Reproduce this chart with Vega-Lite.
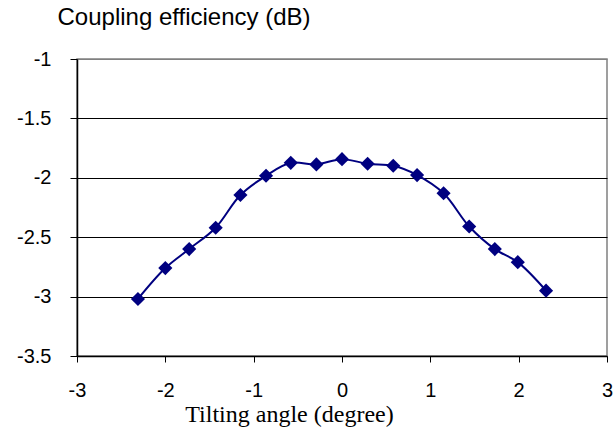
{
  "$schema": "https://vega.github.io/schema/vega-lite/v6.json",
  "width": 530,
  "height": 297,
  "autosize": {"type": "none"},
  "padding": {"left": 77, "top": 59, "right": 6, "bottom": 77},
  "background": "white",
  "config": {"view": {"stroke": "#808080", "strokeWidth": 1.5}},
  "data": {
    "values": [
      {"angle": -2.31, "eff": -3.02},
      {"angle": -2.0, "eff": -2.76},
      {"angle": -1.73, "eff": -2.6},
      {"angle": -1.43, "eff": -2.42},
      {"angle": -1.15, "eff": -2.145},
      {"angle": -0.86, "eff": -1.983},
      {"angle": -0.58, "eff": -1.874},
      {"angle": -0.29, "eff": -1.887},
      {"angle": 0.0, "eff": -1.843},
      {"angle": 0.29, "eff": -1.882},
      {"angle": 0.58, "eff": -1.899},
      {"angle": 0.85, "eff": -1.977},
      {"angle": 1.15, "eff": -2.13},
      {"angle": 1.44, "eff": -2.41},
      {"angle": 1.73, "eff": -2.6},
      {"angle": 1.99, "eff": -2.71},
      {"angle": 2.31, "eff": -2.95}
    ]
  },
  "encoding": {
    "x": {
      "field": "angle",
      "type": "quantitative",
      "scale": {"domain": [-3, 3], "nice": false, "zero": false},
      "axis": {
        "values": [-3, -2, -1, 0, 1, 2, 3],
        "labelExpr": "'' + datum.value",
        "grid": false,
        "domainColor": "black",
        "domainWidth": 1.5,
        "tickColor": "black",
        "tickSize": 6,
        "labelFont": "Liberation Sans",
        "labelFontSize": 20,
        "labelColor": "black",
        "labelPadding": 18,
        "labelFlush": false,
        "title": "Tilting angle (degree)",
        "titleFont": "Liberation Serif",
        "titleFontSize": 24,
        "titleFontWeight": "normal",
        "titleColor": "black",
        "titleAlign": "center",
        "titleBaseline": "alphabetic",
        "titleX": 212,
        "titleY": 65
      }
    },
    "y": {
      "field": "eff",
      "type": "quantitative",
      "scale": {"domain": [-3.5, -1], "nice": false, "zero": false},
      "axis": {
        "values": [-3.5, -3, -2.5, -2, -1.5, -1],
        "labelExpr": "'' + datum.value",
        "grid": true,
        "gridColor": {"condition": {"test": "datum.value == -1", "value": "#808080"}, "value": "black"},
        "gridOpacity": 1,
        "gridWidth": 1,
        "domainColor": "black",
        "domainWidth": 1.5,
        "tickColor": "black",
        "tickSize": 7,
        "labelFont": "Liberation Sans",
        "labelFontSize": 20,
        "labelColor": "black",
        "labelPadding": 19,
        "labelFlush": false,
        "title": "Coupling efficiency (dB)",
        "titleAngle": 0,
        "titleFont": "Liberation Sans",
        "titleFontSize": 24,
        "titleFontWeight": "normal",
        "titleColor": "black",
        "titleAlign": "left",
        "titleBaseline": "alphabetic",
        "titleX": -20,
        "titleY": -35
      }
    }
  },
  "layer": [
    {
      "mark": {"type": "line", "interpolate": "catmull-rom", "color": "#000080", "strokeWidth": 2}
    },
    {
      "mark": {"type": "point", "shape": "diamond", "filled": true, "size": 200, "color": "#000080", "opacity": 1}
    }
  ]
}
